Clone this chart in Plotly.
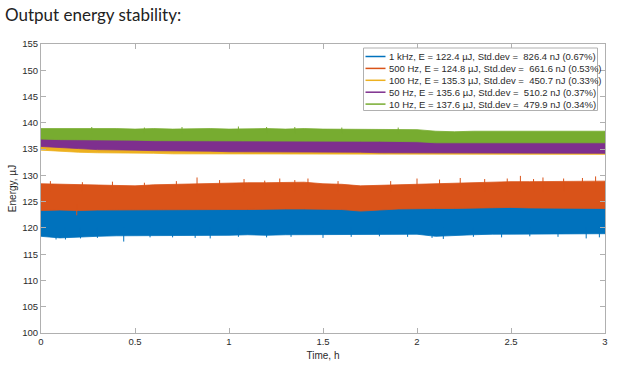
import plotly.graph_objects as go

# ---- data (envelopes of the dense noisy records) ----
time_h = [round(0.1 * i, 1) for i in range(31)]

series_names = [
    "1 kHz, E = 122.4 µJ, Std.dev = \u00a0826.4 nJ (0.67%)",
    "500 Hz, E = 124.8 µJ, Std.dev = \u00a0661.6 nJ (0.53%)",
    "100 Hz, E = 135.3 µJ, Std.dev = \u00a0450.7 nJ (0.33%)",
    "50 Hz, E = 135.6 µJ, Std.dev = \u00a0510.2 nJ (0.37%)",
    "10 Hz, E = 137.6 µJ, Std.dev = \u00a0479.9 nJ (0.34%)",
]
series_colors = ["#0072BD", "#D95319", "#EDB120", "#7E2F8E", "#77AC30"]

blue_lo = [118.4, 118.1, 118.2, 118.4, 118.5, 118.6, 118.6, 118.5, 118.6, 118.6, 118.6,
           118.7, 118.6, 118.7, 118.7, 118.7, 118.8, 118.8, 118.7, 118.8, 118.8,
           118.4, 118.5, 118.7, 118.8, 118.8, 118.9, 118.8, 118.8, 118.9, 118.9]
blue_hi = [124.2] * 31

orange_lo = [123.3, 123.4, 123.3, 123.4, 123.4, 123.4, 123.4, 123.4, 123.4, 123.5, 123.5,
             123.5, 123.5, 123.6, 123.6, 123.6, 123.5, 123.2, 123.4, 123.6, 123.7,
             123.7, 123.7, 123.8, 123.8, 123.9, 123.8, 123.8, 123.8, 123.7, 123.7]
orange_hi = [128.4, 128.3, 128.3, 128.2, 128.1, 128.0, 128.2, 128.3, 128.4, 128.5, 128.6,
             128.6, 128.6, 128.7, 128.7, 128.4, 128.3, 128.0, 128.1, 128.3, 128.4,
             128.5, 128.6, 128.6, 128.7, 128.8, 128.8, 128.8, 128.8, 128.8, 128.9]

yellow_lo = [134.8, 134.6, 134.4, 134.3, 134.2, 134.2, 134.2, 134.1, 134.1, 134.1, 134.1,
             134.1, 134.1, 134.1, 134.1, 134.0, 134.0, 134.0, 134.0, 134.0, 134.0,
             134.0, 134.0, 134.0, 134.0, 134.0, 134.0, 134.0, 134.0, 134.0, 134.0]
yellow_hi = [136.0] * 31

purple_lo = [135.5, 135.3, 135.1, 134.9, 134.8, 134.8, 134.7, 134.7, 134.6, 134.6, 134.5,
             134.5, 134.5, 134.5, 134.4, 134.4, 134.4, 134.4, 134.3, 134.3, 134.3,
             134.3, 134.2, 134.2, 134.2, 134.2, 134.2, 134.2, 134.2, 134.2, 134.2]
purple_hi = [137.2] * 31

green_lo = [136.9, 136.8, 136.8, 136.7, 136.7, 136.7, 136.6, 136.6, 136.6, 136.6, 136.5,
            136.5, 136.5, 136.5, 136.5, 136.5, 136.5, 136.5, 136.5, 136.5, 136.4,
            136.2, 136.2, 136.2, 136.2, 136.2, 136.2, 136.2, 136.2, 136.2, 136.2]
green_hi = [138.9, 138.9, 139.0, 138.9, 138.9, 138.8, 138.9, 138.8, 138.9, 138.9, 138.8,
            138.9, 138.9, 138.8, 138.9, 138.8, 138.8, 138.8, 138.7, 138.7, 138.7,
            138.4, 138.3, 138.4, 138.4, 138.4, 138.5, 138.4, 138.4, 138.4, 138.4]

# individual outlier spikes
orange_up_t = [0.05, 0.22, 0.38, 0.55, 0.72, 0.83, 0.95, 1.08, 1.19, 1.27, 1.35, 1.42, 1.58,
               1.86, 2.0, 2.12, 2.23, 2.36, 2.48, 2.55, 2.62, 2.67, 2.78, 2.88, 2.95]
orange_up_v = [128.9, 128.7, 128.8, 128.6, 128.9, 129.6, 129.1, 129.3, 129.0, 129.4, 129.1,
               129.4, 128.9, 128.9, 129.4, 129.2, 129.5, 129.3, 129.4, 129.9, 129.3, 129.6,
               129.4, 129.5, 129.8]
orange_dn_t = [0.19]
orange_dn_v = [122.4]
blue_dn_t = [0.08, 0.13, 0.21, 0.3, 0.44, 0.58, 0.7, 0.82, 0.9, 1.05, 1.2, 1.33, 1.5, 1.65,
             1.8, 1.95, 2.08, 2.14, 2.3, 2.45, 2.6, 2.75, 2.9, 2.97]
blue_dn_v = [117.8, 117.8, 118.0, 118.1, 117.4, 118.2, 118.2, 118.1, 118.0, 118.3, 118.2,
             118.3, 118.1, 118.3, 118.4, 118.3, 118.1, 117.9, 118.3, 118.2, 118.4, 118.3,
             118.0, 118.2]
green_up_t = [0.27, 0.55, 0.75, 1.05, 1.2, 1.35, 1.6, 1.9]
green_up_v = [139.2, 139.1, 139.2, 139.3, 139.2, 139.2, 139.1, 139.1]

x_ticks = [0, 0.5, 1, 1.5, 2, 2.5, 3]
x_tick_labels = ["0", "0.5", "1", "1.5", "2", "2.5", "3"]
y_ticks = [100, 105, 110, 115, 120, 125, 130, 135, 140, 145, 150, 155]

# ---- layout geometry (pixels) ----
W, H = 621, 370
ML, MR, MT, MB = 41, 16, 44, 37
PW, PH = W - ML - MR, H - MT - MB
AXIS_GREY = "#b0b0b0"
TEXT_GREY = "#2b2b2b"


def px(xp):
    return (xp - ML) / PW


def py(yp):
    return 1 - (yp - MT) / PH


# ---- figure ----
fig = go.Figure()


def band(lo, hi, color):
    fig.add_trace(go.Scatter(
        x=time_h + time_h[::-1], y=hi + lo[::-1], mode="lines",
        fill="toself", fillcolor=color, line=dict(color=color, width=0.8),
        hoverinfo="skip", showlegend=False))


def spikes(ts, vs, base, color):
    xs, ys = [], []
    for t, v in zip(ts, vs):
        xs += [t, t, None]
        ys += [base, v, None]
    fig.add_trace(go.Scatter(x=xs, y=ys, mode="lines",
                             line=dict(color=color, width=1),
                             hoverinfo="skip", showlegend=False))


band(blue_lo, blue_hi, series_colors[0])
spikes(blue_dn_t, blue_dn_v, 120.0, series_colors[0])
band(orange_lo, orange_hi, series_colors[1])
spikes(orange_up_t, orange_up_v, 127.0, series_colors[1])
spikes(orange_dn_t, orange_dn_v, 124.5, series_colors[1])
band(yellow_lo, yellow_hi, series_colors[2])
band(purple_lo, purple_hi, series_colors[3])
band(green_lo, green_hi, series_colors[4])
spikes(green_up_t, green_up_v, 138.0, series_colors[4])

# ---- MATLAB-style legend box (drawn manually for compact rows) ----
LEG_L, LEG_R, LEG_T, LEG_B = 363.5, 597.5, 48, 110.5
ROW0, ROW_STEP = 56.5, 11.9
shapes = [dict(type="rect", xref="paper", yref="paper",
               x0=px(LEG_L), x1=px(LEG_R), y0=py(LEG_B), y1=py(LEG_T),
               fillcolor="white", line=dict(color=AXIS_GREY, width=1), layer="above")]
annotations = []
for i, (name, color) in enumerate(zip(series_names, series_colors)):
    yc = ROW0 + i * ROW_STEP
    shapes.append(dict(type="line", xref="paper", yref="paper",
                       x0=px(365.5), x1=px(385.5), y0=py(yc), y1=py(yc),
                       line=dict(color=color, width=1.5), layer="above"))
    annotations.append(dict(text=name, xref="paper", yref="paper",
                            x=px(386.5), y=py(yc), xanchor="left", yanchor="middle",
                            showarrow=False,
                            font=dict(family="Liberation Sans, Arial", size=9.5, color=TEXT_GREY)))

axis_common = dict(
    showline=True, linecolor=AXIS_GREY, linewidth=1, mirror="allticks",
    ticks="inside", ticklen=5, tickcolor=AXIS_GREY, showgrid=False, zeroline=False,
    automargin=False,
    tickfont=dict(family="Liberation Sans, Arial", size=9.5, color=TEXT_GREY),
)

fig.update_layout(
    width=W, height=H,
    margin=dict(l=ML, r=MR, t=MT, b=MB, autoexpand=False),
    paper_bgcolor="white", plot_bgcolor="white",
    title=dict(text="Output energy stability:", xref="container", yref="container",
               x=5 / W, xanchor="left", y=1 - 15 / H, yanchor="middle",
               font=dict(family="Lato, Open Sans", size=17, color="#222222")),
    xaxis=dict(range=[0, 3], tickvals=x_ticks, ticktext=x_tick_labels,
               title=dict(text="Time, h", standoff=5,
                          font=dict(family="Liberation Sans, Arial", size=10, color=TEXT_GREY)),
               **axis_common),
    yaxis=dict(range=[100, 155], tickvals=y_ticks,
               title=dict(text="Energy, µJ", standoff=3,
                          font=dict(family="Liberation Sans, Arial", size=10, color=TEXT_GREY)),
               **axis_common),
    shapes=shapes,
    annotations=annotations,
    showlegend=False,
)

fig.write_html("out.html", config={"displayModeBar": False},
               post_script="document.body.style.margin='0';document.body.style.overflow='hidden';")
